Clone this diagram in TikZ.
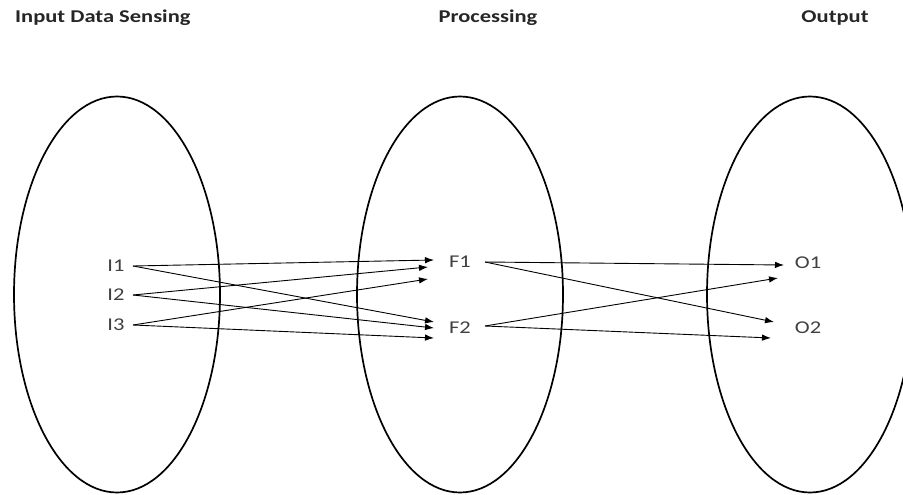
\documentclass[tikz,border=0pt]{standalone}
\usepackage{fontspec}
\setmainfont{Carlito}
\newfontfamily\widefont[FakeStretch=1.25]{Carlito}
\usetikzlibrary{arrows.meta,shapes.geometric}
\begin{document}
\begin{tikzpicture}[x=1pt,y=-1pt,
  setbox/.style={draw, ellipse, line width=1.7pt, inner sep=0pt, minimum width=206pt, minimum height=396pt},
  title/.style={font=\widefont\fontsize{18}{20}\selectfont\bfseries, text=black!85, inner sep=0pt},
  lbl/.style={font=\widefont\fontsize{18}{20}\selectfont, text=black!75, inner sep=0pt},
  link/.style={line width=0.9pt, -{Latex[length=9pt,width=6.5pt]}}]
\useasboundingbox (0,0) rectangle (903,495);
\begin{scope}
\clip (0,0) rectangle (903,495);
\node[setbox] (E1) at (117,294.5) {};
\node[setbox] (E2) at (460,294.5) {};
\node[setbox] (E3) at (810,294.5) {};
\end{scope}
\node[title, anchor=west] (t1) at (15,18) {Input Data Sensing};
\node[title] (t2) at (488,18) {Processing};
\node[title] (t3) at (835,18) {Output};
\node[lbl] (I1) at (116,266) {I1};
\node[lbl] (I2) at (116,295) {I2};
\node[lbl] (I3) at (116,325) {I3};
\node[lbl] (F1) at (460,262) {F1};
\node[lbl] (F2) at (460,328) {F2};
\node[lbl] (O1) at (808,263) {O1};
\node[lbl] (O2) at (808,328) {O2};
% start and end points
\coordinate (i1s) at (133,266);
\coordinate (i2s) at (133,295);
\coordinate (i3s) at (133,325);
\coordinate (f1a) at (434,260);
\coordinate (f1b) at (428,267);
\coordinate (f1c) at (428,279);
\coordinate (f2a) at (434,322);
\coordinate (f2b) at (434,328);
\coordinate (f2c) at (434,338);
\coordinate (f1s) at (485,262);
\coordinate (f2s) at (485,326);
\coordinate (o1a) at (784,265);
\coordinate (o1b) at (778,278);
\coordinate (o2a) at (774,322);
\coordinate (o2b) at (771,338);
\draw[link] (i1s) -- (f1a);
\draw[link] (i1s) -- (f2a);
\draw[link] (i2s) -- (f1b);
\draw[link] (i2s) -- (f2b);
\draw[link] (i3s) -- (f1c);
\draw[link] (i3s) -- (f2c);
\draw[link] (f1s) -- (o1a);
\draw[link] (f1s) -- (o2a);
\draw[link] (f2s) -- (o1b);
\draw[link] (f2s) -- (o2b);
\end{tikzpicture}
\end{document}
